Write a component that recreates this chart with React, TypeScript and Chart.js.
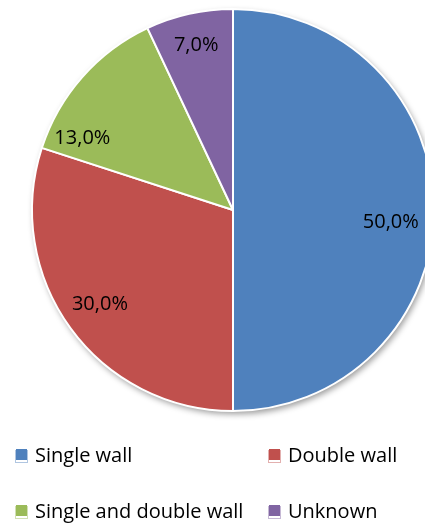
import React, { useEffect, useRef } from "react";
import { Chart, registerables } from "chart.js";

Chart.register(...registerables);

const categories = ["Single wall", "Double wall", "Single and double wall", "Unknown"];
const values = [50.0, 30.0, 13.0, 7.0];
const colors = ["#4F81BD", "#C0504D", "#9BBB59", "#8064A2"];
const valueLabels = ["50,0%", "30,0%", "13,0%", "7,0%"];

const FONT = "'Open Sans', 'DejaVu Sans', sans-serif";

// label placement (fraction of radius + pixel nudge)
const labelFactor = [0.8, 0.8, 0.8, 0.84];
const labelNudge: [number, number][] = [[-3, 12], [-3, 0], [-30, 35], [0, 0]];

const shadowPlugin = {
  id: "pieShadow",
  beforeDatasetsDraw(chart: any) {
    const arc = chart.getDatasetMeta(0).data[0];
    if (!arc) return;
    const { x, y, outerRadius } = arc.getProps(["x", "y", "outerRadius"], true);
    const ctx = chart.ctx;
    ctx.save();
    ctx.shadowColor = "rgba(0,0,0,0.4)";
    ctx.shadowBlur = 6;
    ctx.shadowOffsetX = 2;
    ctx.shadowOffsetY = 3;
    ctx.beginPath();
    ctx.arc(x, y, outerRadius, 0, Math.PI * 2);
    ctx.fillStyle = "#ffffff";
    ctx.fill();
    ctx.restore();
  },
};

const labelPlugin = {
  id: "pieLabels",
  afterDatasetsDraw(chart: any) {
    const ctx = chart.ctx;
    const meta = chart.getDatasetMeta(0);
    ctx.save();
    ctx.font = `20px ${FONT}`;
    ctx.fillStyle = "#000000";
    ctx.textAlign = "center";
    ctx.textBaseline = "middle";
    meta.data.forEach((arc: any, i: number) => {
      const { x, y, startAngle, endAngle, outerRadius } = arc.getProps(
        ["x", "y", "startAngle", "endAngle", "outerRadius"],
        true
      );
      const mid = (startAngle + endAngle) / 2;
      const r = outerRadius * labelFactor[i];
      const lx = x + Math.cos(mid) * r + labelNudge[i][0];
      const ly = y + Math.sin(mid) * r + labelNudge[i][1];
      ctx.fillText(valueLabels[i], lx, ly);
    });
    ctx.restore();
  },
};

const legendPlugin = {
  id: "customLegend",
  afterDraw(chart: any) {
    const ctx = chart.ctx;
    const colX = [15, 268];
    const rowY = [456, 512];
    ctx.save();
    ctx.font = `20px ${FONT}`;
    ctx.textBaseline = "middle";
    ctx.textAlign = "left";
    categories.forEach((label, i) => {
      const bx = colX[i % 2];
      const by = rowY[Math.floor(i / 2)];
      ctx.strokeStyle = colors[i];
      ctx.globalAlpha = 0.45;
      ctx.lineWidth = 1;
      ctx.strokeRect(bx + 0.5, by - 5.5, 12, 12);
      ctx.globalAlpha = 1;
      ctx.fillStyle = colors[i];
      ctx.fillRect(bx + 1, by - 7, 11, 11);
      ctx.fillStyle = "#000000";
      ctx.fillText(label, bx + 20, by);
    });
    ctx.restore();
  },
};

export default function App() {
  const ref = useRef<HTMLCanvasElement | null>(null);

  useEffect(() => {
    document.documentElement.style.overflow = "hidden";
    document.body.style.margin = "0";
    document.body.style.overflow = "hidden";
    const canvas = ref.current;
    if (!canvas) return;
    const chart = new Chart(canvas, {
      type: "pie",
      data: {
        labels: categories,
        datasets: [
          {
            data: values,
            backgroundColor: colors,
            borderColor: "#ffffff",
            borderWidth: 2,
            radius: 201,
          } as any,
        ],
      },
      options: {
        responsive: false,
        animation: false,
        layout: { padding: { top: 0, left: 0, right: 0, bottom: 103 } },
        plugins: {
          legend: { display: false },
          tooltip: { enabled: false },
        },
      },
      plugins: [shadowPlugin, labelPlugin, legendPlugin],
    });
    return () => chart.destroy();
  }, []);

  return (
    <div style={{ position: "fixed", left: 0, top: 0, width: 425, height: 523, overflow: "hidden", background: "#fff" }}>
      <canvas ref={ref} width={466} height={523} style={{ display: "block", width: 466, height: 523 }} />
    </div>
  );
}
